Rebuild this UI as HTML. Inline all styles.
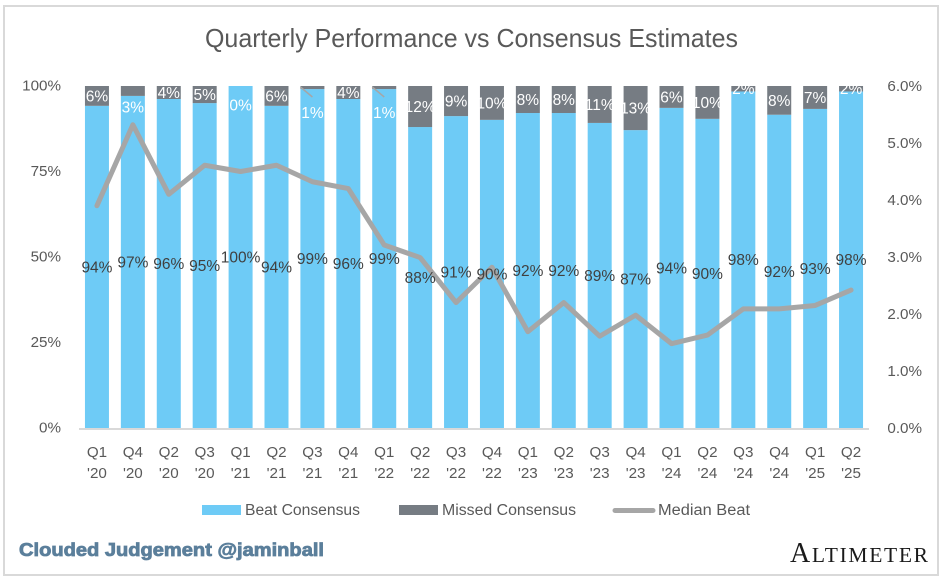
<!DOCTYPE html>
<html lang="en">
<head>
<meta charset="utf-8">
<title>Quarterly Performance vs Consensus Estimates</title>
<style>
html,body{margin:0;padding:0;background:#fff;}
svg{display:block;font-family:"Liberation Sans",sans-serif;}
</style>
</head>
<body>
<svg id="chart" xmlns="http://www.w3.org/2000/svg" width="943" height="580" viewBox="0 0 943 580">
  <defs>
    <clipPath id="plot-clip"><rect x="60" y="86" width="830" height="345"></rect></clipPath>
  </defs>
  <rect x="0" y="0" width="943" height="580" fill="#ffffff"></rect>
  <rect x="4" y="6" width="934" height="569" fill="none" stroke="#d9d9d9" stroke-width="2"></rect>
  <text x="205" y="47" font-size="26" fill="#595959" textLength="533" lengthAdjust="spacingAndGlyphs">Quarterly Performance vs Consensus Estimates</text>
  <g id="left-axis"></g>
  <g id="right-axis"></g>
  <g id="bars"></g>
  <line x1="79" y1="429" x2="869" y2="429" stroke="#d9d9d9" stroke-width="2"></line>
  <g id="leaders"></g>
  <polyline id="median-line" fill="none" stroke="#a6a6a6" stroke-width="5" stroke-linejoin="round" stroke-linecap="round"></polyline>
  <g id="labels" clip-path="url(#plot-clip)"></g>
  <g id="x-axis"></g>

  <g>
    <g>
      <rect x="202" y="505" width="39" height="10" fill="#6ecbf6"></rect>
      <text x="245" y="515" font-size="15.5" fill="#595959" textLength="115" lengthAdjust="spacingAndGlyphs">Beat Consensus</text>
    </g>
    <g>
      <rect x="399" y="505" width="39" height="10" fill="#767c83"></rect>
      <text x="442" y="515" font-size="15.5" fill="#595959" textLength="134" lengthAdjust="spacingAndGlyphs">Missed Consensus</text>
    </g>
    <g>
      <line x1="615" y1="510.5" x2="653" y2="510.5" stroke="#a6a6a6" stroke-width="5" stroke-linecap="round"></line>
      <text x="658" y="515" font-size="15.5" fill="#595959" textLength="92" lengthAdjust="spacingAndGlyphs">Median Beat</text>
    </g>
  </g>

  <text x="19" y="556" font-size="18" font-weight="bold" fill="#5b7f9b" stroke="#5b7f9b" stroke-width="0.8" textLength="305" lengthAdjust="spacingAndGlyphs">Clouded Judgement @jaminball</text>
  <text x="790" y="562" font-family="'Liberation Serif',serif" fill="#1a1a1a" textLength="138" lengthAdjust="spacing"><tspan font-size="28">A</tspan><tspan font-size="21.5">LTIMETER</tspan></text>
</svg>

<script>
const quarters = ["Q1","Q4","Q2","Q3","Q1","Q2","Q3","Q4","Q1","Q2","Q3","Q4","Q1","Q2","Q3","Q4","Q1","Q2","Q3","Q4","Q1","Q2"];
const years = ["'20","'20","'20","'20","'21","'21","'21","'21","'22","'22","'22","'22","'23","'23","'23","'23","'24","'24","'24","'24","'25","'25"];
const beatValues = [94.2,97.1,96.2,95,100,94.2,99.1,96.2,99.1,88,91.2,90.1,92.1,92.1,89.2,87.1,93.6,90.4,98.4,91.6,93.3,98.4];
const missedValues = [5.8,2.9,3.8,5,0,5.8,0.9,3.8,0.9,12,8.8,9.9,7.9,7.9,10.8,12.9,6.4,9.6,1.6,8.4,6.7,1.6];
const medianBeat = [3.9,5.32,4.1,4.61,4.5,4.61,4.32,4.2,3.21,2.99,2.2,2.82,1.69,2.2,1.61,1.98,1.48,1.63,2.09,2.09,2.15,2.42];
const leftTicks = [0,25,50,75,100];
const rightTicks = [0,1,2,3,4,5,6];

const NS = "http://www.w3.org/2000/svg";
const plotLeft = 79, plotRight = 869, plotTop = 86, plotBottom = 428;
const bandWidth = (plotRight - plotLeft) / quarters.length;
const barWidth = 24;

function xCenter(i) { return plotLeft + bandWidth * (i + 0.5); }
function yShare(v) { return plotBottom - (v / 100) * (plotBottom - plotTop); }
function yMedian(v) { return plotBottom - (v / 6) * (plotBottom - plotTop); }
function labelNudge(rounded) {
  if (rounded === 0) return 19;
  if (rounded === 1) return 25;
  if (rounded === 3) return 16;
  return 0;
}
function make(parentId, tag, attrs, content) {
  const el = document.createElementNS(NS, tag);
  Object.keys(attrs).forEach(function (k) { el.setAttribute(k, attrs[k]); });
  if (content !== undefined) el.textContent = content;
  document.getElementById(parentId).appendChild(el);
  return el;
}

leftTicks.forEach(function (t) {
  const el = make("left-axis", "text", { x: 61, y: yShare(t) + 4.5, "text-anchor": "end", "font-size": 15.2, fill: "#595959" }, t + "%");
  
  
});

rightTicks.forEach(function (t) {
  const el = make("right-axis", "text", { x: 922, y: yMedian(t) + 5, "text-anchor": "end", "font-size": 15.2, fill: "#595959" }, t.toFixed(1) + "%");
  
  
});

quarters.forEach(function (q, i) {
  const cx = xCenter(i);
  const beat = beatValues[i];
  const missed = missedValues[i];
  const yBeat = yShare(beat);
  const yTop = yShare(beat + missed);

  const beatBar = make("bars", "rect", { x: cx - barWidth / 2, y: yBeat, width: barWidth, height: plotBottom - yBeat, fill: "#6ecbf6" });
  
  

  const missedBar = make("bars", "rect", { x: cx - barWidth / 2, y: yTop, width: barWidth, height: yBeat - yTop, fill: "#767c83" });
  
  

  const beatLabel = make("labels", "text", { x: cx, y: (yBeat + plotBottom) / 2 + 5.5, "text-anchor": "middle", "font-size": 15.5, fill: "#404040" }, Math.round(beat) + "%");
  
  

  const rounded = Math.round(missed);
  const missedLabel = make("labels", "text", { x: cx, y: (yTop + yBeat) / 2 + 5.5 + labelNudge(rounded), "text-anchor": "middle", "font-size": 15.5, fill: "#ffffff" }, rounded + "%");
  
  

  if (rounded === 1) {
    const leader = make("leaders", "line", { x1: cx - 12, y1: yTop + 1, x2: cx, y2: yTop + 11, stroke: "#a6a6a6", "stroke-width": 1.5 });
    
    
  }

  const quarterLabel = make("x-axis", "text", { x: cx, y: 457, "text-anchor": "middle", "font-size": 15.2, fill: "#595959" }, q);
  
  

  const yearLabel = make("x-axis", "text", { x: cx, y: 478, "text-anchor": "middle", "font-size": 15.2, fill: "#595959" }, years[i]);
  
  
});

document.getElementById("median-line").setAttribute("points", medianBeat.map(function (v, i) {
  return xCenter(i).toFixed(2) + "," + yMedian(v).toFixed(2);
}).join(" "));
</script>
</body>
</html>
